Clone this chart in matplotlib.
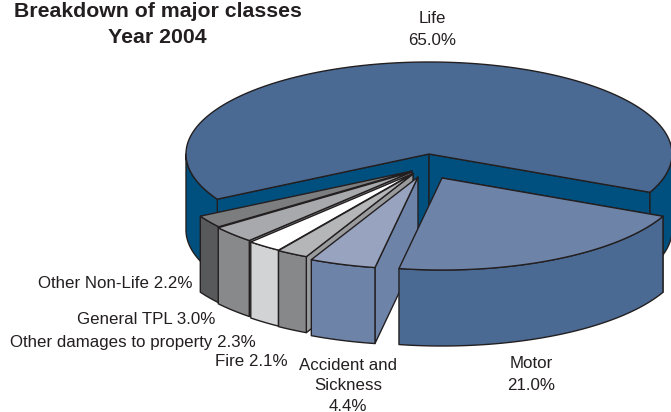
import numpy as np
import matplotlib
matplotlib.use("Agg")
import matplotlib.pyplot as plt
from matplotlib.patches import Polygon

plt.rcParams['font.family'] = ['Liberation Sans', 'DejaVu Sans']

# data, clockwise from the Life/Motor boundary
categories = ["Motor", "Accident and\nSickness", "Fire", "Other damages to property",
              "General TPL", "Other Non-Life", "Life"]
shares = [21.0, 4.4, 2.1, 2.3, 3.0, 2.2, 65.0]

top_colors = ["#6E83A8", "#97A3BF", "#B5B6B8", "#FFFFFF", "#A7A9AC", "#7C7D7F", "#4A6A94"]
wall_colors = ["#4A6A94", "#6E83A8", "#87888A", "#D2D3D5", "#88898B", "#58595B", "#00507F"]
side_colors = ["#4A6A94", "#6E83A8", "#9A9B9D", "#D2D3D5", "#88898B", "#58595B", "#00507F"]
offsets = [(13, 24), (-11, 23), (-16, 20), (-16, 19.5), (-17.5, 18), (-17, 17), (0, 0)]

CX, CY, RX, RY, DEPTH = 429, 154, 243, 92, 76
START = -24.6
LINE = "#231F20"

fig = plt.figure(figsize=(6.71, 4.12), dpi=100)
ax = fig.add_axes([0, 0, 1, 1])
ax.set_xlim(0, 671)
ax.set_ylim(412, 0)
ax.axis("off")


def arc(a0, a1, off):
    t = np.radians(np.linspace(a0, a1, max(int(abs(a1 - a0) * 2), 2)))
    return np.column_stack((CX + off[0] + RX * np.cos(t), CY + off[1] - RY * np.sin(t)))


def poly(pts, color, z):
    ax.add_patch(Polygon(pts, closed=True, facecolor=color, edgecolor=LINE,
                         linewidth=1.0, joinstyle="round", zorder=z))


def wedge(a0, a1, off, top, wall, side, z):
    """a0 > a1: the slice runs clockwise from a0 to a1."""
    apex = np.array([CX + off[0], CY + off[1]], dtype=float)
    down = np.array([0, DEPTH])
    edge = arc(a0, a1, off)
    big = a0 - a1 > 180
    # radial walls: the leading one always, the trailing one on the large slice
    poly([apex, edge[0], edge[0] + down, apex + down], side, z)
    if big:
        poly([apex, edge[-1], edge[-1] + down, apex + down], side, z)
    # outer wall: only the front part of the rim shows
    rims = [arc(a0, -180, off), arc(-360, a1, off)] if big else [edge]
    for rim in rims:
        poly(np.vstack((rim, (rim + down)[::-1])), wall, z + 0.1)
    poly(np.vstack(([apex], edge)), top, z + 0.2)


# angles of every slice, clockwise from START
angle = START
spans = []
for s in shares:
    spans.append((angle, angle - s * 3.6))
    angle -= s * 3.6

for z, i in enumerate([6, 5, 4, 3, 2, 1, 0]):
    a0, a1 = spans[i]
    wedge(a0, a1, offsets[i], top_colors[i], wall_colors[i], side_colors[i], z + 1)

# title
ax.text(158, 11, "Breakdown of major classes", fontsize=15.3, fontweight="bold",
        color="#231F20", ha="center", va="center", zorder=20)
ax.text(157, 37, "Year 2004", fontsize=15.3, fontweight="bold",
        color="#231F20", ha="center", va="center", zorder=20)

# labels
TXT = dict(fontsize=12.2, color="#231F20", zorder=20, clip_on=False)
ax.text(432, 29.5, f"{categories[6]}\n{shares[6]:.1f}%", ha="center", va="center",
        linespacing=1.55, **TXT)
ax.text(531, 374.5, f"{categories[0]}\n{shares[0]:.1f}%", ha="center", va="center",
        linespacing=1.55, **TXT)
ax.text(348, 386, f"{categories[1]}\n{shares[1]:.1f}%", ha="center", va="center",
        linespacing=1.42, **TXT)
ax.text(193, 284, f"{categories[5]} {shares[5]:.1f}%", ha="right", va="center", **TXT)
ax.text(215, 320, f"{categories[4]} {shares[4]:.1f}%", ha="right", va="center", **TXT)
ax.text(256, 342, f"{categories[3]} {shares[3]:.1f}%", ha="right", va="center", **TXT)
ax.text(288, 362, f"{categories[2]} {shares[2]:.1f}%", ha="right", va="center", **TXT)

fig.savefig("out.png", dpi=100)
